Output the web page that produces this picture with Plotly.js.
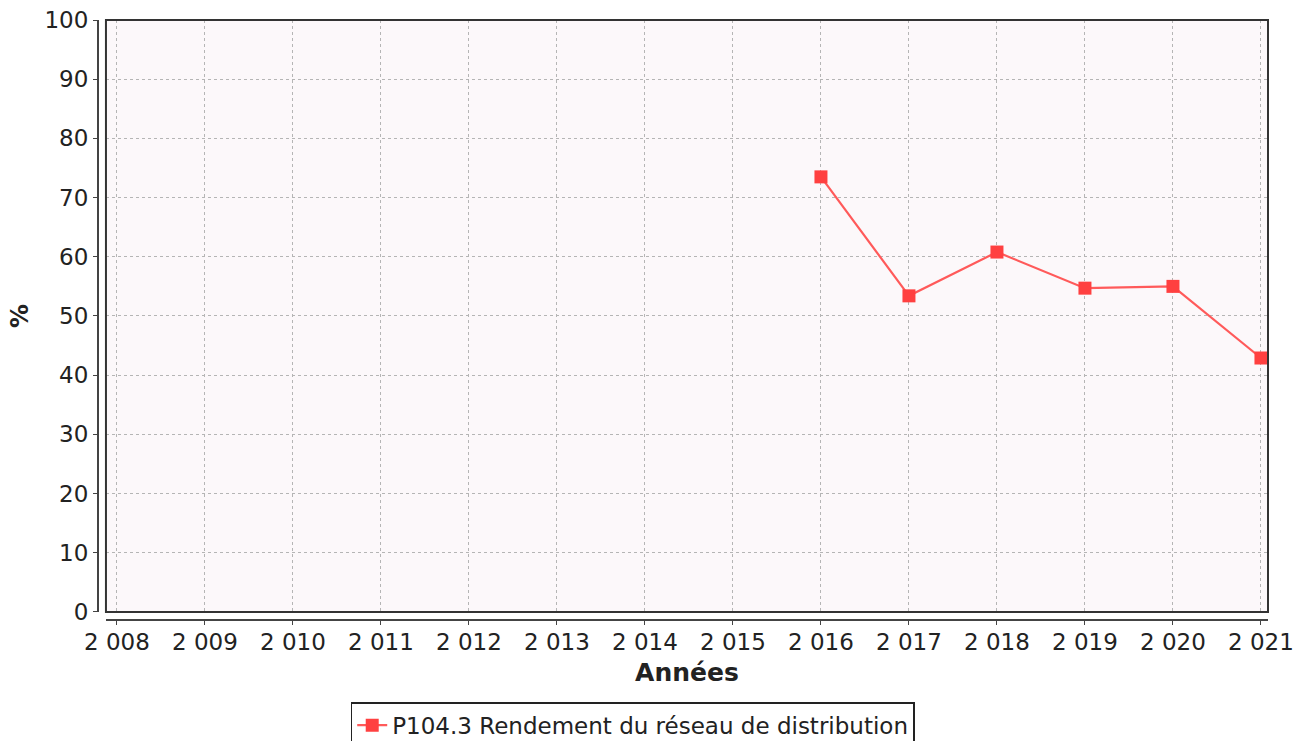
<!DOCTYPE html>
<html>
<head>
<meta charset="utf-8">
<script src="https://cdn.plot.ly/plotly-3.0.1.min.js"></script>
<style>html,body{margin:0;padding:0;background:#fff;}#chart{width:1306px;height:741px;}</style>
</head>
<body>
<div id="chart"></div>
<script>
const years = [2016, 2017, 2018, 2019, 2020, 2021];
const rendement = [73.5, 53.4, 60.8, 54.7, 55.0, 42.9];
const tickYears = [2008, 2009, 2010, 2011, 2012, 2013, 2014, 2015, 2016, 2017, 2018, 2019, 2020, 2021];
const tickLabels = ["2 008", "2 009", "2 010", "2 011", "2 012", "2 013", "2 014", "2 015", "2 016", "2 017", "2 018", "2 019", "2 020", "2 021"];
const yTicks = [0, 10, 20, 30, 40, 50, 60, 70, 80, 90, 100];
const seriesName = "P104.3 Rendement du réseau de distribution";

const font = "DejaVu Sans, sans-serif";
const trace = {
  x: years, y: rendement, type: "scatter", mode: "lines+markers",
  name: seriesName,
  line: {color: "#ff5a5a", width: 2.2},
  marker: {symbol: "square", size: 13, color: "#ff4040"}
};
const layout = {
  width: 1306, height: 741,
  margin: {l: 98, r: 38, t: 20, b: 121, autoexpand: false},
  paper_bgcolor: "#ffffff",
  plot_bgcolor: "#fcf8fa",
  showlegend: true,
  font: {family: font, color: "#222"},
  xaxis: {
    domain: [0.0068, 1],
    anchor: "free", position: 0,
    range: [2007.875, 2021.08],
    tickvals: tickYears, ticktext: tickLabels,
    tickfont: {size: 23, family: font, color: "#222"},
    ticks: "outside", ticklen: 4, tickcolor: "#444",
    ticklabelstandoff: -3,
    showline: true, linecolor: "#444", linewidth: 2,
    showgrid: true, gridcolor: "#b5b5b5", griddash: "dot", gridwidth: 1,
    zeroline: false, automargin: false,
    title: {text: "Années", font: {size: 25, family: font, color: "#222", weight: "bold"}, standoff: 9}
  },
  yaxis: {
    domain: [0.0134, 1],
    anchor: "free", position: 0,
    range: [0, 100],
    tickvals: yTicks,
    tickfont: {size: 23, family: font, color: "#222"},
    ticks: "outside", ticklen: 4, tickcolor: "#444",
    showline: true, linecolor: "#444", linewidth: 2,
    showgrid: true, gridcolor: "#b5b5b5", griddash: "dot", gridwidth: 1,
    zeroline: false, automargin: false,
    title: {text: "%", font: {size: 24, family: font, color: "#222", weight: "bold"}, standoff: 8}
  },
  shapes: [{
    type: "rect", xref: "x domain", yref: "y domain",
    x0: 0, x1: 1, y0: 0, y1: 1,
    line: {color: "#333", width: 2}, fillcolor: "rgba(0,0,0,0)", layer: "above"
  }],
  legend: {
    orientation: "h", x: 0.216, xanchor: "left", y: -0.137, yanchor: "top",
    bgcolor: "#ffffff", bordercolor: "#222", borderwidth: 1.5,
    font: {size: 23, family: font, color: "#222"}
  }
};
Plotly.newPlot("chart", [trace], layout, {displayModeBar: false, staticPlot: true});
</script>
</body>
</html>
